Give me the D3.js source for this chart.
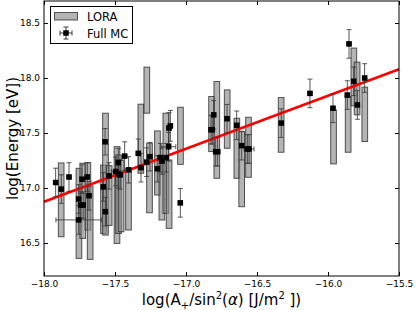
<!DOCTYPE html>
<html>
<head>
<meta charset="utf-8">
<script src="https://cdn.jsdelivr.net/npm/d3@7"></script>
<style>
  body { margin: 0; background: #fff; }
  svg { display: block; font-family: "DejaVu Sans", sans-serif; }
</style>
</head>
<body>
<div id="chart"></div>
<script>
// LORA energy ranges (grey bars)
const loraX = [-17.879, -17.754, -17.727, -17.691, -17.675, -17.581, -17.567, -17.541, -17.486, -17.475,
  -17.457, -17.405, -17.318, -17.276, -17.257, -17.201, -17.170, -17.142, -17.119, -17.039,
  -16.820, -16.783, -16.710, -16.642, -16.608, -16.560, -16.330, -15.961, -15.858, -15.818,
  -15.795, -15.741];
const loraLow = [16.557, 16.360, 16.542, 16.618, 16.351, 16.587, 16.572, 16.660, 16.496, 16.587,
  16.602, 16.618, 17.134, 17.680, 16.775, 16.936, 16.709, 16.769, 16.633, 17.215,
  17.331, 17.088, 17.361, 17.088, 16.830, 17.097, 17.325, 17.219, 17.325, 17.747,
  17.665, 17.422];
const loraHigh = [17.228, 17.179, 17.225, 17.231, 17.018, 17.209, 17.680, 17.203, 17.376, 17.300,
  17.255, 17.179, 17.762, 18.099, 17.407, 17.519, 17.300, 17.680, 17.255, 17.734,
  17.832, 17.968, 17.892, 17.634, 17.513, 17.643, 17.822, 17.710, 17.832, 18.272,
  18.144, 17.917];

// Full MC points
const mcX = [-17.918, -17.878, -17.824, -17.756, -17.756, -17.742, -17.732, -17.724, -17.695, -17.683,
  -17.582, -17.570, -17.568, -17.542, -17.495, -17.477, -17.477, -17.463, -17.432, -17.404,
  -17.336, -17.317, -17.277, -17.254, -17.202, -17.181, -17.169, -17.139, -17.122, -17.120,
  -17.110, -17.040, -16.824, -16.805, -16.815, -16.791, -16.777, -16.711, -16.643, -16.608,
  -16.568, -16.556, -16.329, -16.127, -15.965, -15.864, -15.852, -15.819, -15.793, -15.742];
const mcY = [17.05, 16.99, 17.10, 16.90, 16.71, 16.845, 17.08, 16.845, 17.10, 16.93,
  17.01, 17.42, 16.785, 17.11, 17.15, 17.23, 17.13, 17.12, 17.29, 17.165,
  17.315, 17.185, 17.235, 17.285, 17.175, 17.275, 17.245, 17.275, 17.375, 17.545,
  17.565, 16.865, 17.53, 17.665, 17.53, 17.33, 17.33, 17.63, 17.57, 17.385,
  17.355, 17.355, 17.59, 17.86, 17.725, 17.845, 18.31, 17.97, 17.755, 18.0];
const mcYErr = [0.13, 0.13, 0.13, 0.13, 0.13, 0.12, 0.13, 0.12, 0.13, 0.13,
  0.13, 0.12, 0.13, 0.12, 0.13, 0.13, 0.13, 0.13, 0.13, 0.12,
  0.13, 0.13, 0.13, 0.13, 0.12, 0.13, 0.12, 0.13, 0.13, 0.14,
  0.14, 0.13, 0.13, 0.13, 0.13, 0.13, 0.13, 0.13, 0.13, 0.13,
  0.13, 0.13, 0.13, 0.13, 0.13, 0.13, 0.13, 0.13, 0.13, 0.13];
const mcXErr = [0.015, 0.015, 0.015, 0.015, 0.16, 0.015, 0.015, 0.015, 0.015, 0.015,
  0.015, 0.015, 0.015, 0.015, 0.03, 0.015, 0.015, 0.015, 0.015, 0.015,
  0.015, 0.015, 0.015, 0.015, 0.015, 0.015, 0.015, 0.015, 0.05, 0.015,
  0.015, 0.015, 0.015, 0.015, 0.015, 0.015, 0.015, 0.015, 0.015, 0.015,
  0.015, 0.035, 0.015, 0.015, 0.015, 0.015, 0.015, 0.015, 0.015, 0.015];

// fit line end points
const fitX = [-18.0, -15.5];
const fitY = [16.875, 18.08];

const xTicks = [-18.0, -17.5, -17.0, -16.5, -16.0, -15.5];
const yTicks = [16.5, 17.0, 17.5, 18.0, 18.5];

const width = 416, height = 310;
const margin = { top: 1, right: 17, bottom: 34, left: 44 };
const chartW = width - margin.left - margin.right;
const chartH = height - margin.top - margin.bottom;

const svg = d3.select('#chart').append('svg')
  .attr('width', width)
  .attr('height', height);

const g = svg.append('g')
  .attr('transform', `translate(${margin.left},${margin.top})`);

const xScale = d3.scaleLinear().domain([-18, -15.5]).range([0, chartW]);
const yScale = d3.scaleLinear().domain([16.2, 18.7]).range([chartH, 0]);

const fmt = d3.format('.1f');
const barHalf = 0.02;

// grey LORA bars
g.append('g').selectAll('rect')
  .data(loraX.map((x, i) => ({ x, lo: loraLow[i], hi: loraHigh[i] })))
  .join('rect')
  .attr('x', d => xScale(d.x - barHalf))
  .attr('width', d => xScale(d.x + barHalf) - xScale(d.x - barHalf))
  .attr('y', d => yScale(d.hi))
  .attr('height', d => yScale(d.lo) - yScale(d.hi))
  .attr('fill', '#8c8c8c')
  .attr('fill-opacity', 0.65)
  .attr('stroke', '#222')
  .attr('stroke-opacity', 0.75)
  .attr('stroke-width', 1);

// red fit line
g.append('line')
  .attr('x1', xScale(fitX[0])).attr('y1', yScale(fitY[0]))
  .attr('x2', xScale(fitX[1])).attr('y2', yScale(fitY[1]))
  .attr('stroke', '#ff0000')
  .attr('stroke-width', 2.6);

// error bars
const pts = mcX.map((x, i) => ({ x, y: mcY[i], ye: mcYErr[i], xe: mcXErr[i] }));
const eb = g.append('g').attr('stroke', '#3a3a3a').attr('stroke-opacity', 0.85).attr('stroke-width', 1);
const cap = 2.5;
pts.forEach(d => {
  const cx = xScale(d.x), cy = yScale(d.y);
  const yt = yScale(d.y + d.ye), yb = yScale(d.y - d.ye);
  const xl = xScale(d.x - d.xe), xr = xScale(d.x + d.xe);
  eb.append('line').attr('x1', cx).attr('x2', cx).attr('y1', yt).attr('y2', yb);
  eb.append('line').attr('x1', cx - cap).attr('x2', cx + cap).attr('y1', yt).attr('y2', yt);
  eb.append('line').attr('x1', cx - cap).attr('x2', cx + cap).attr('y1', yb).attr('y2', yb);
  eb.append('line').attr('x1', xl).attr('x2', xr).attr('y1', cy).attr('y2', cy);
  eb.append('line').attr('x1', xl).attr('x2', xl).attr('y1', cy - cap).attr('y2', cy + cap);
  eb.append('line').attr('x1', xr).attr('x2', xr).attr('y1', cy - cap).attr('y2', cy + cap);
});

// black square markers
const sq = 5.5;
g.append('g').selectAll('rect')
  .data(pts)
  .join('rect')
  .attr('x', d => xScale(d.x) - sq / 2)
  .attr('y', d => yScale(d.y) - sq / 2)
  .attr('width', sq).attr('height', sq)
  .attr('fill', '#000');

// axes, ticks inward on all four sides
const xAxis = d3.axisBottom(xScale).tickValues(xTicks).tickFormat(fmt).tickSizeInner(-4).tickSizeOuter(0).tickPadding(5);
const yAxis = d3.axisLeft(yScale).tickValues(yTicks).tickFormat(fmt).tickSizeInner(-4).tickSizeOuter(0).tickPadding(4);

const xg = g.append('g').attr('transform', `translate(0,${chartH})`).call(xAxis);
const yg = g.append('g').call(yAxis);
g.append('g').call(d3.axisTop(xScale).tickValues(xTicks).tickFormat('').tickSizeInner(-4).tickSizeOuter(0));
g.append('g').attr('transform', `translate(${chartW},0)`)
  .call(d3.axisRight(yScale).tickValues(yTicks).tickFormat('').tickSizeInner(-4).tickSizeOuter(0));

g.selectAll('.domain').remove();
g.selectAll('.tick line').attr('stroke', '#000');
[xg, yg].forEach(a => a.selectAll('text')
  .attr('font-family', '"DejaVu Sans", sans-serif')
  .attr('font-size', 9)
  .attr('fill', '#000'));

// frame
g.append('rect')
  .attr('x', 0).attr('y', 0)
  .attr('width', chartW).attr('height', chartH)
  .attr('fill', 'none')
  .attr('stroke', '#000')
  .attr('stroke-width', 1);

// axis labels
svg.append('text')
  .attr('transform', `translate(13,${margin.top + chartH / 2}) rotate(-90)`)
  .attr('text-anchor', 'middle')
  .attr('dy', '0.35em')
  .attr('font-size', 15)
  .text('log(Energy [eV])');

const xl = svg.append('text')
  .attr('x', margin.left + chartW / 2)
  .attr('y', 305)
  .attr('text-anchor', 'middle')
  .attr('font-size', 15);
xl.append('tspan').text('log(A');
xl.append('tspan').attr('font-size', 10).attr('dy', 4).text('+');
xl.append('tspan').attr('dy', -4).text('/sin');
xl.append('tspan').attr('font-size', 10).attr('dy', -6).text('2');
xl.append('tspan').attr('dy', 6).text('(');
xl.append('tspan').attr('font-style', 'italic').text('α');
xl.append('tspan').text(') [J/m');
xl.append('tspan').attr('font-size', 10).attr('dy', -6).text('2');
xl.append('tspan').attr('dy', 6).text(' ])');

// legend
const lg = svg.append('g');
lg.append('rect')
  .attr('x', 50.5).attr('y', 6.5).attr('width', 82).attr('height', 37)
  .attr('fill', '#fff').attr('stroke', '#000').attr('stroke-width', 1);
lg.append('rect')
  .attr('x', 54.5).attr('y', 12.5).attr('width', 23).attr('height', 7.5)
  .attr('fill', '#8c8c8c').attr('fill-opacity', 0.65)
  .attr('stroke', '#222').attr('stroke-opacity', 0.75);
lg.append('text').attr('x', 87).attr('y', 20.5).attr('font-size', 11.5).text('LORA');
const mx = 66, my = 33;
const lm = lg.append('g').attr('stroke', '#3a3a3a').attr('stroke-width', 1);
lm.append('line').attr('x1', mx).attr('x2', mx).attr('y1', my - 6).attr('y2', my + 6);
lm.append('line').attr('x1', mx - cap).attr('x2', mx + cap).attr('y1', my - 6).attr('y2', my - 6);
lm.append('line').attr('x1', mx - cap).attr('x2', mx + cap).attr('y1', my + 6).attr('y2', my + 6);
lm.append('line').attr('x1', mx - 6).attr('x2', mx + 6).attr('y1', my).attr('y2', my);
lm.append('line').attr('x1', mx - 6).attr('x2', mx - 6).attr('y1', my - cap).attr('y2', my + cap);
lm.append('line').attr('x1', mx + 6).attr('x2', mx + 6).attr('y1', my - cap).attr('y2', my + cap);
lg.append('rect').attr('x', mx - sq / 2).attr('y', my - sq / 2).attr('width', sq).attr('height', sq).attr('fill', '#000');
lg.append('text').attr('x', 87).attr('y', 37.5).attr('font-size', 11.5).text('Full MC');
</script>
</body>
</html>
